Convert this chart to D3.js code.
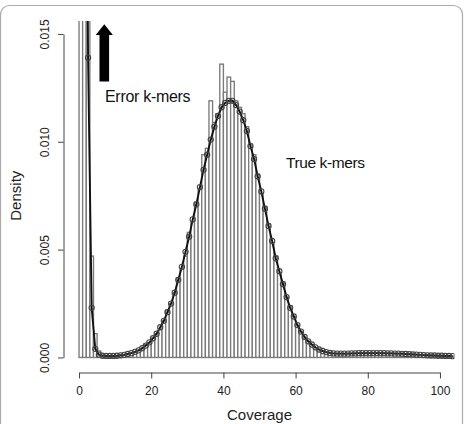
<!DOCTYPE html>
<html lang="en">
    <head>
        <meta charset="utf-8">
        <title>k-mer coverage histogram</title>
        <script type="text/javascript" src="https://cdn.jsdelivr.net/npm/d3@7/dist/d3.min.js"></script>
        <style>
            body { margin: 0; background: #fff; }
            text { font-family: "Liberation Sans", Arial, Helvetica, sans-serif; }
        </style>
    </head>
    <body>
        <script type="text/javascript">
            // observed k-mer histogram, density per coverage bin [k, k+1)
            var histDensity = [
                0.16, 0.08, 0.03, 0.0047, 0.0011, 0.0003, 0.0001, 0.00006, 0.00005, 0.00006,
                0.00007, 0.00009, 0.00012, 0.00015, 0.0002, 0.00025, 0.00033, 0.0004, 0.0006, 0.00068,
                0.0009, 0.0011, 0.0013, 0.0017, 0.0022, 0.0025, 0.003, 0.0037, 0.0041, 0.0047,
                0.0058, 0.0063, 0.0072, 0.0078, 0.0094, 0.0097, 0.0119, 0.0109, 0.0113, 0.0136,
                0.0123, 0.0130, 0.0128, 0.0119, 0.0116, 0.0113, 0.0107, 0.0099, 0.0094, 0.0085,
                0.0076, 0.0070, 0.0062, 0.0053, 0.0047, 0.0039, 0.0035, 0.0028, 0.0024, 0.0019,
                0.0015, 0.0012, 0.0009, 0.00075, 0.0006, 0.00045, 0.00036, 0.0003, 0.00024, 0.0002,
                0.00019, 0.00018, 0.00018, 0.00017, 0.00018, 0.00018, 0.00019, 0.00019, 0.0002, 0.0002,
                0.00021, 0.0002, 0.00021, 0.0002, 0.0002, 0.0002, 0.00019, 0.00019, 0.00018, 0.00018,
                0.00017, 0.00016, 0.00015, 0.00014, 0.00013, 0.00012, 0.00011, 0.0001, 0.00009, 0.00009,
                0.00008, 0.00008, 0.00007, 0.00007
            ];
            // fitted model density, evaluated at bin centres k + 0.5
            var fitDensity = [
                0.12, 0.045, 0.0139, 0.0023, 0.0004, 0.00013, 0.00008, 0.00007, 0.00007, 0.00007,
                0.00008, 0.0001, 0.00012, 0.00016, 0.0002, 0.00026, 0.00033, 0.00043, 0.00055, 0.0007,
                0.00089, 0.0011, 0.0014, 0.0017, 0.0021, 0.0025, 0.003, 0.0036, 0.0042, 0.0049,
                0.0056, 0.0064, 0.0071, 0.0079, 0.0087, 0.0094, 0.0101, 0.0107, 0.0112, 0.0116,
                0.0118, 0.0119, 0.0119, 0.0117, 0.0114, 0.0110, 0.0105, 0.0098, 0.0092, 0.0084,
                0.0077, 0.0069, 0.0061, 0.0054, 0.0046, 0.0040, 0.0034, 0.0028, 0.0023, 0.0019,
                0.0015, 0.0012, 0.00095, 0.00075, 0.0006, 0.00047, 0.00037, 0.0003, 0.00025, 0.00021,
                0.00019, 0.00018, 0.00018, 0.00018, 0.00018, 0.00019, 0.00019, 0.0002, 0.0002, 0.0002,
                0.0002, 0.0002, 0.0002, 0.0002, 0.0002, 0.00019, 0.00019, 0.00018, 0.00018, 0.00017,
                0.00016, 0.00015, 0.00014, 0.00013, 0.00012, 0.00011, 0.0001, 0.00009, 0.00009, 0.00008,
                0.00008, 0.00007, 0.00007, 0.00006
            ];
            var xTicks = [0, 20, 40, 60, 80, 100];
            var yTicks = [0, 0.005, 0.010, 0.015];

            var w = 467;
            var h = 424;

            var svg = d3.select("body")
                    .append("svg")
                    .attr("width", w)
                    .attr("height", h);

            // rounded panel frame
            svg.append("rect")
                .attr("x", 0.5)
                .attr("y", 5.5)
                .attr("width", 462)
                .attr("height", 440)
                .attr("rx", 9)
                .attr("fill", "none")
                .attr("stroke", "#aaa")
                .attr("stroke-width", 1.2);

            var xScale = d3.scaleLinear()
                .domain([-4, 104])
                .range([64.6, 454.4]);
            var yScale = d3.scaleLinear()
                .domain([-0.0006, 0.0156])
                .range([370.4, 21]);

            svg.append("clipPath")
                .attr("id", "plotclip")
                .append("rect")
                .attr("x", xScale(-4))
                .attr("y", yScale(0.0156))
                .attr("width", xScale(104) - xScale(-4))
                .attr("height", yScale(-0.0006) - yScale(0.0156));

            var plot = svg.append("g").attr("clip-path", "url(#plotclip)");

            plot.selectAll("rect.bar")
                .data(histDensity)
                .enter()
                .append("rect")
                .attr("class", "bar")
                .attr("x", function(d, i) { return xScale(i); })
                .attr("y", function(d) { return yScale(d); })
                .attr("width", xScale(1) - xScale(0))
                .attr("height", function(d) { return yScale(0) - yScale(d); })
                .attr("fill", "#fff")
                .attr("stroke", "#7a7a7a")
                .attr("stroke-width", 1.35);

            var line = d3.line()
                .x(function(d, i) { return xScale(i + 0.5); })
                .y(function(d) { return yScale(d); });

            plot.append("path")
                .datum(fitDensity)
                .attr("d", line)
                .attr("fill", "none")
                .attr("stroke", "#111")
                .attr("stroke-width", 1.9);

            plot.selectAll("circle")
                .data(fitDensity)
                .enter()
                .append("circle")
                .attr("cx", function(d, i) { return xScale(i + 0.5); })
                .attr("cy", function(d) { return yScale(d); })
                .attr("r", 2.6)
                .attr("fill", "none")
                .attr("stroke", "#444")
                .attr("stroke-width", 1.1);

            // arrow pointing to the off-scale error peak
            var ax = xScale(7);
            var aTop = yScale(0.01545);
            var aBase = yScale(0.0128);
            var aHead = yScale(0.01495);
            svg.append("path")
                .attr("d", "M" + (ax - 4.8) + "," + aBase + "L" + (ax - 4.8) + "," + aHead +
                    "L" + (ax - 8.6) + "," + aHead + "L" + ax + "," + aTop +
                    "L" + (ax + 8.6) + "," + aHead + "L" + (ax + 4.8) + "," + aHead +
                    "L" + (ax + 4.8) + "," + aBase + "Z")
                .attr("fill", "#000");

            svg.append("text")
                .text("Error k-mers")
                .attr("x", 105)
                .attr("y", 102)
                .attr("font-size", "16px")
                .attr("letter-spacing", "-0.3px")
                .attr("fill", "#111");
            svg.append("text")
                .text("True k-mers")
                .attr("x", 286)
                .attr("y", 168)
                .attr("font-size", "15.5px")
                .attr("letter-spacing", "-0.4px")
                .attr("fill", "#111");

            // axes, drawn only over the tick range like R does
            var xAxisScale = d3.scaleLinear()
                .domain([0, 100])
                .range([xScale(0), xScale(100)]);
            var xAxis = d3.axisBottom()
                .scale(xAxisScale)
                .tickValues(xTicks)
                .tickSizeOuter(0)
                .tickSizeInner(6)
                .tickPadding(8);
            var gx = svg.append("g")
                .attr("class", "axis")
                .attr("transform", "translate(0,372.5)")
                .call(xAxis);
            gx.selectAll("text").attr("font-size", "12px").attr("fill", "#222")
                .style("font-family", "'Liberation Sans', Arial, sans-serif");

            var yAxisScale = d3.scaleLinear()
                .domain([0, 0.015])
                .range([yScale(0), yScale(0.015)]);
            var yAxis = d3.axisLeft()
                .scale(yAxisScale)
                .tickValues(yTicks)
                .tickSizeOuter(0)
                .tickSizeInner(5.5)
                .tickFormat(d3.format(".3f"));
            var gy = svg.append("g")
                .attr("class", "axis")
                .attr("transform", "translate(63.5,0)")
                .call(yAxis);
            gy.selectAll("text")
                .attr("font-size", "12px")
                .attr("fill", "#222")
                .style("font-family", "'Liberation Sans', Arial, sans-serif")
                .attr("text-anchor", "middle")
                .attr("x", 0)
                .attr("dy", null)
                .attr("y", -15)
                .attr("transform", "rotate(-90)");

            svg.selectAll(".axis path, .axis line")
                .attr("stroke", "#444");

            svg.append("text")
                .text("Coverage")
                .attr("x", xScale(50))
                .attr("y", 419.5)
                .attr("text-anchor", "middle")
                .attr("font-size", "15px")
                .attr("fill", "#222");
            svg.append("text")
                .text("Density")
                .attr("transform", "translate(20.5," + ((yScale(-0.0006) + yScale(0.0156)) / 2) + ") rotate(-90)")
                .attr("text-anchor", "middle")
                .attr("font-size", "15px")
                .attr("fill", "#222");
        </script>
    </body>
</html>
